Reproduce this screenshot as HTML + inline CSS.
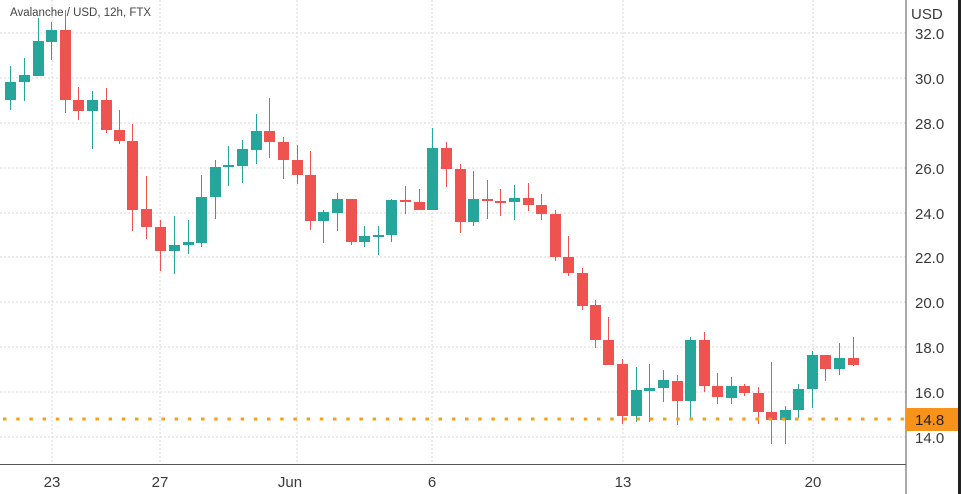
<!DOCTYPE html>
<html><head><meta charset="utf-8"><style>
html,body{margin:0;padding:0;background:#fff;width:961px;height:494px;overflow:hidden}
svg{display:block}
text{font-family:"Liberation Sans",sans-serif;fill:#3a3a3a}
</style></head><body>
<svg width="961" height="494" xmlns="http://www.w3.org/2000/svg">
<g stroke="#d8d8d8" stroke-dasharray="2,2" stroke-width="1">
<line x1="0" x2="906" y1="33" y2="33"/><line x1="0" x2="906" y1="78" y2="78"/><line x1="0" x2="906" y1="123" y2="123"/><line x1="0" x2="906" y1="168" y2="168"/><line x1="0" x2="906" y1="213" y2="213"/><line x1="0" x2="906" y1="257" y2="257"/><line x1="0" x2="906" y1="302" y2="302"/><line x1="0" x2="906" y1="347" y2="347"/><line x1="0" x2="906" y1="392" y2="392"/><line x1="0" x2="906" y1="437" y2="437"/>
<line x1="52" x2="52" y1="0" y2="464"/><line x1="160" x2="160" y1="0" y2="464"/><line x1="297" x2="297" y1="0" y2="464"/><line x1="432" x2="432" y1="0" y2="464"/><line x1="623" x2="623" y1="0" y2="464"/><line x1="813" x2="813" y1="0" y2="464"/>
</g>
<line x1="906" x2="906" y1="0" y2="494" stroke="#555" stroke-width="1"/>
<line x1="0" x2="906" y1="464.5" y2="464.5" stroke="#555" stroke-width="1"/>
<rect x="958" y="0" width="3" height="494" fill="#222"/>
<g id="c"></g>
<line x1="3" x2="906" y1="419" y2="419" stroke="#f5a21a" stroke-width="3" stroke-dasharray="3.5,9.7"/>
<rect x="906" y="408" width="52" height="23" fill="#f7931a"/>
<text x="915" y="425" font-size="15" style="fill:#222">14.8</text>
<text x="911" y="19" font-size="15">USD</text>
<g font-size="15">
<text x="915" y="39">32.0</text><text x="915" y="84">30.0</text><text x="915" y="129">28.0</text><text x="915" y="174">26.0</text><text x="915" y="219">24.0</text><text x="915" y="263">22.0</text><text x="915" y="308">20.0</text><text x="915" y="353">18.0</text><text x="915" y="398">16.0</text><text x="915" y="443">14.0</text>
</g>
<g font-size="15" text-anchor="middle">
<text x="52" y="487">23</text><text x="160" y="487">27</text><text x="290" y="487">Jun</text><text x="432" y="487">6</text><text x="623" y="487">13</text><text x="813" y="487">20</text>
</g>
<text x="10" y="16" font-size="11.5" style="fill:#444">Avalanche / USD, 12h, FTX</text>
</svg>
<script>
var d=[[10,'g',82,100,66,110],[24,'g',75,82,58,101],[38,'g',41,76,18,76],[51,'g',30,42,22,60],[65,'r',30,100,10,113],[78,'r',100,111,87,120],[92,'g',100,111,91,149],[106,'r',100,130,88,133],[119,'r',130,141,110,144],[132,'r',141,210,124,231],[146,'r',209,227,176,239],[160,'r',227,251,220,271],[174,'g',245,251,216,274],[188,'g',242,245,220,254],[201,'g',197,243,175,247],[215,'g',167,197,160,219],[228,'g',165,167,146,186],[242,'g',149,166,140,183],[256,'g',131,150,114,164],[269,'r',131,142,98,158],[283,'r',142,160,137,179],[297,'r',160,175,145,184],[310,'r',175,221,151,230],[323,'g',212,221,210,243],[337,'g',199,213,193,231],[351,'r',199,242,199,245],[364,'g',236,242,226,247],[378,'g',235,236,226,255],[391,'g',200,235,199,242],[405,'r',200,202,186,214],[419,'r',202,210,189,210],[432,'g',148,210,128,210],[446,'r',148,169,142,187],[460,'r',169,222,164,233],[473,'g',199,222,171,226],[487,'r',199,201,180,219],[500,'r',201,202,189,216],[514,'g',198,202,185,220],[528,'r',198,205,183,211],[541,'r',205,214,194,220],[555,'r',214,257,210,261],[568,'r',257,273,236,276],[582,'r',273,306,268,310],[595,'r',305,340,300,348],[608,'r',340,365,317,365],[622,'r',364,416,359,424],[636,'g',390,416,367,422],[649,'g',388,391,364,422],[663,'g',380,388,370,402],[677,'r',381,401,375,425],[690,'g',340,401,337,418],[704,'r',340,386,332,392],[717,'r',386,397,373,404],[731,'g',386,398,377,404],[744,'r',386,393,384,396],[758,'r',393,412,387,424],[771,'r',412,420,362,444],[785,'g',410,420,406,444],[798,'g',389,410,384,418],[812,'g',355,389,351,408],[825,'r',355,369,355,381],[839,'g',358,369,343,375],[853,'r',358,365,337,366]];
var s='';d.forEach(function(c){var col=c[1]=='g'?'#26a69a':'#ef5350';var h=Math.max(2,c[3]-c[2]);
s+='<line x1="'+(c[0]+.5)+'" x2="'+(c[0]+.5)+'" y1="'+c[4]+'" y2="'+c[5]+'" stroke="'+col+'" stroke-width="1"/>';
s+='<rect x="'+(c[0]-5)+'" y="'+c[2]+'" width="11" height="'+h+'" fill="'+col+'"/>';});
document.getElementById('c').innerHTML=s;
</script>
</body></html>
